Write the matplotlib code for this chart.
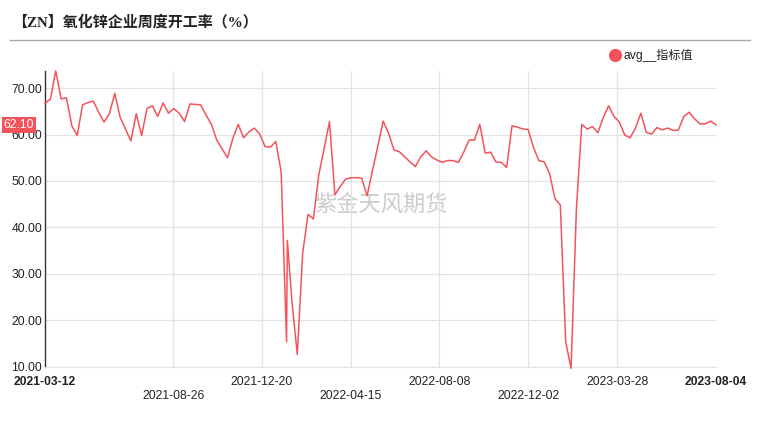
import matplotlib
matplotlib.use("Agg")
import matplotlib.pyplot as plt
import matplotlib.transforms as mtransforms
import pandas as pd

# weekly dates, plus one extra reading just after 2022-01-21
week_dates = list(pd.date_range("2021-03-12", "2023-08-04", freq="7D"))
extra_date = pd.Timestamp("2022-01-22")

values = [
    66.8, 67.6, 73.7, 67.7, 67.9, 61.9, 59.8, 66.4, 66.9, 67.2,
    64.8, 62.7, 64.5, 68.9, 63.7, 61.2, 58.6, 64.5, 59.8, 65.6,
    66.2, 63.9, 66.8, 64.6, 65.6, 64.6, 62.8, 66.6, 66.5, 66.4,
    64.2, 62.2, 58.8, 56.9, 55.0, 59.2, 62.2, 59.3, 60.6, 61.4,
    60.1, 57.4, 57.3, 58.5, 51.9, 15.3, 37.2, 24.0, 12.6, 34.4,
    42.8, 41.8, 51.3, 57.0, 62.8, 47.0, 48.8, 50.4, 50.7, 50.7,
    50.6, 46.8, 52.2, 57.5, 62.9, 60.3, 56.7, 56.3, 55.2, 54.1,
    53.1, 55.2, 56.5, 55.2, 54.5, 54.0, 54.4, 54.4, 54.0, 56.2,
    58.8, 58.8, 62.2, 56.0, 56.2, 54.1, 54.0, 52.9, 61.9, 61.6,
    61.2, 61.1, 57.2, 54.4, 54.1, 51.6, 46.2, 44.8, 15.3, 9.6,
    44.1, 62.2, 61.2, 61.7, 60.4, 63.7, 66.2, 63.9, 62.7, 59.9,
    59.3, 61.4, 64.6, 60.5, 60.1, 61.5, 61.0, 61.4, 60.9, 61.0,
    63.9, 64.8, 63.4, 62.3, 62.3, 62.9, 62.1,
]

dates = sorted(week_dates + [extra_date])

tick_dates = ["2021-03-12", "2021-08-26", "2021-12-20", "2022-04-15",
              "2022-08-08", "2022-12-02", "2023-03-28", "2023-08-04"]
y_ticks = [10, 20, 30, 40, 50, 60, 70]

title = "【ZN】氧化锌企业周度开工率（%）"
legend_label = "avg__指标值"
watermark = "紫金天风期货"
red = "#f4535b"

fig = plt.figure(figsize=(7.62, 4.30), dpi=100)
ax = fig.add_axes([45 / 762, 1 - 366.5 / 430, 671 / 762, (366.5 - 71) / 430])

ax.plot(dates, values, color=red, lw=1.1, clip_on=False, zorder=3)

ax.set_ylim(10, 73.7)
ax.set_xlim(pd.Timestamp(tick_dates[0]), pd.Timestamp(tick_dates[-1]))

ax.set_yticks(y_ticks)
ax.set_yticklabels([f"{v:.2f}" for v in y_ticks], fontsize=8.7,
                   family="Liberation Sans", color="#222")
ax.yaxis.grid(True, color="#e3e3e3", lw=0.9)

xt = [pd.Timestamp(d) for d in tick_dates]
ax.set_xticks(xt)
ax.set_xticklabels(tick_dates, fontsize=8.7, family="Liberation Sans", color="#222")
ax.xaxis.grid(True, color="#e3e3e3", lw=0.9)
ax.tick_params(length=0)
ax.tick_params(axis="y", pad=2)
for i, tick in enumerate(ax.xaxis.get_major_ticks()):
    tick.set_pad(17 if i % 2 == 1 and i < len(tick_dates) - 1 else 7)
    if i == 0 or i == len(tick_dates) - 1:
        tick.label1.set_fontweight("bold")
# no grid line at the edges
ax.xaxis.get_major_ticks()[-1].gridline.set_visible(False)
ax.xaxis.get_major_ticks()[0].gridline.set_visible(False)

for s in ["top", "right"]:
    ax.spines[s].set_visible(False)
ax.spines["bottom"].set_color("#e3e3e3")
ax.spines["left"].set_color("#333333")
ax.spines["left"].set_linewidth(1.0)

# last value marker on the y axis
trans = mtransforms.blended_transform_factory(ax.transAxes, ax.transData)
ax.text(-0.016, values[-1], f"{values[-1]:.2f}", transform=trans, ha="right",
        va="center", fontsize=8.7, family="Liberation Sans", color="white",
        bbox=dict(boxstyle="square,pad=0.15", fc=red, ec="none"))

# watermark
ax.text(0.5, 0.545, watermark, transform=ax.transAxes, ha="center", va="center",
        fontsize=16, color="#cccccc", family=["Noto Sans CJK SC"], zorder=1)

# title and rule
fig.text(12 / 762, 1 - 22 / 430, title, ha="left", va="center", fontsize=10.8,
         fontweight="bold", family=["Liberation Serif", "Noto Sans CJK SC"],
         color="#222")
fig.add_artist(plt.Line2D([10 / 762, 750 / 762], [1 - 40 / 430, 1 - 40 / 430],
                          color="#aaaaaa", lw=1.0))

# legend
fig.add_artist(plt.Line2D([615 / 762], [1 - 55 / 430], marker="o", ms=8.5,
                          color=red, lw=0))
fig.text(623 / 762, 1 - 55 / 430, legend_label, ha="left", va="center",
         fontsize=8.7, family=["Liberation Sans", "Noto Sans CJK SC"], color="#222")

fig.savefig("out.png", dpi=100)
